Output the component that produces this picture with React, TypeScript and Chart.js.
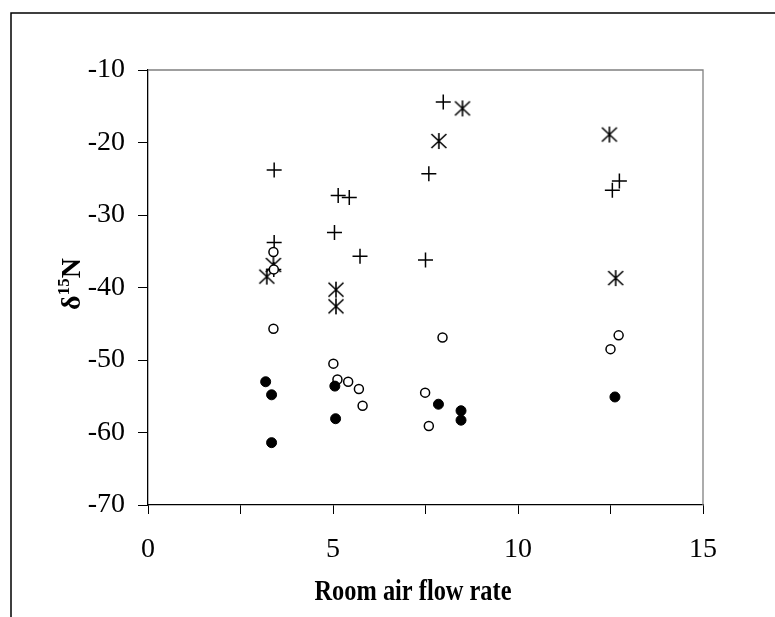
import { useEffect, useRef } from 'react';
import { Chart, registerables } from 'chart.js';

Chart.register(...registerables);

// Room air flow rate vs. delta-15N, four sample groups
const plusX = [3.41, 3.41, 3.4, 5.14, 5.44, 5.04, 5.73, 7.5, 7.59, 7.98, 12.74, 12.55];
const plusY = [-23.8, -33.8, -37.5, -27.3, -27.6, -32.4, -35.7, -36.2, -24.3, -14.4, -25.3, -26.6];

const starX = [3.21, 3.39, 5.08, 5.08, 7.86, 8.5, 12.47, 12.64];
const starY = [-38.5, -36.9, -40.3, -42.6, -19.8, -15.3, -18.9, -38.7];

const openX = [3.39, 3.39, 3.4, 5.01, 5.12, 5.41, 5.7, 5.8, 7.49, 7.59, 7.96, 12.5, 12.72];
const openY = [-35.1, -45.7, -37.5, -50.5, -52.7, -53.0, -54.0, -56.3, -54.5, -59.1, -46.9, -48.5, -46.6];

const filledX = [3.18, 3.34, 3.34, 5.05, 5.07, 7.85, 8.46, 8.46, 12.62];
const filledY = [-53.0, -54.8, -61.4, -53.6, -58.1, -56.1, -57.0, -58.3, -55.1];

const yTickValues = [-10, -20, -30, -40, -50, -60, -70];
const yTickLabels = ['-10', '-20', '-30', '-40', '-50', '-60', '-70'];
const xTickValues = [0, 5, 10, 15];
const xTickLabels = ['0', '5', '10', '15'];

const xAxisTitle = 'Room air flow rate';
const yTitleSymbol = 'δ';
const yTitleSup = '15';
const yTitleElement = 'N';

const SERIF = '"Liberation Serif", "Times New Roman", serif';

const toPoints = (xs: number[], ys: number[]) => xs.map((x, i) => ({ x, y: ys[i] }));

function makeAsterisk(): HTMLCanvasElement {
  const s = 18;
  const c = document.createElement('canvas');
  c.width = s;
  c.height = s;
  const g = c.getContext('2d')!;
  g.strokeStyle = '#000';
  g.lineWidth = 1.6;
  g.beginPath();
  g.moveTo(1.5, 2);
  g.lineTo(16.5, 16);
  g.moveTo(16.5, 2);
  g.lineTo(1.5, 16);
  g.moveTo(9, 1);
  g.lineTo(9, 17);
  g.stroke();
  return c;
}

const framePlugin = {
  id: 'frameAndTitles',
  beforeDraw(chart: any) {
    const ctx = chart.ctx as CanvasRenderingContext2D;
    ctx.save();
    ctx.fillStyle = '#fff';
    ctx.fillRect(0, 0, chart.width, chart.height);
    ctx.strokeStyle = '#000';
    ctx.lineWidth = 1.5;
    ctx.beginPath();
    ctx.moveTo(11, chart.height + 2);
    ctx.lineTo(11, 13);
    ctx.lineTo(chart.width + 2, 13);
    ctx.stroke();
    ctx.restore();
  },
  afterDraw(chart: any) {
    const ctx = chart.ctx as CanvasRenderingContext2D;
    const a = chart.chartArea;
    ctx.save();
    // top and right edges of the plot box
    ctx.strokeStyle = '#808080';
    ctx.lineWidth = 1.3;
    ctx.beginPath();
    ctx.moveTo(a.left, a.top);
    ctx.lineTo(a.right, a.top);
    ctx.lineTo(a.right, a.bottom);
    ctx.stroke();

    ctx.fillStyle = '#000';
    // x axis title
    ctx.font = `bold 29px ${SERIF}`;
    ctx.textAlign = 'center';
    ctx.textBaseline = 'alphabetic';
    ctx.fillText(xAxisTitle, 413, 600, 197);

    // y axis title with superscript mass number
    const big = `bold 28px ${SERIF}`;
    const small = `bold 17px ${SERIF}`;
    ctx.translate(80, 284);
    ctx.rotate(-Math.PI / 2);
    ctx.textAlign = 'left';
    ctx.font = big;
    const w1 = ctx.measureText(yTitleSymbol).width;
    const w3 = ctx.measureText(yTitleElement).width;
    ctx.font = small;
    const w2 = ctx.measureText(yTitleSup).width;
    let x = -(w1 + w2 + w3) / 2;
    ctx.font = big;
    ctx.fillText(yTitleSymbol, x, 0);
    x += w1;
    ctx.font = small;
    ctx.fillText(yTitleSup, x, -11);
    x += w2;
    ctx.font = big;
    ctx.fillText(yTitleElement, x, 0);
    ctx.restore();
  },
};

export default function App() {
  const ref = useRef<HTMLCanvasElement | null>(null);

  useEffect(() => {
    if (!ref.current) return;
    const asterisk = makeAsterisk();
    const chart = new Chart(ref.current, {
      type: 'scatter',
      data: {
        datasets: [
          {
            label: 'filled',
            data: toPoints(filledX, filledY),
            pointStyle: 'circle',
            pointRadius: 5,
            pointBackgroundColor: '#000',
            pointBorderColor: '#000',
            pointBorderWidth: 1,
          },
          {
            label: 'open',
            data: toPoints(openX, openY),
            pointStyle: 'circle',
            pointRadius: 4.5,
            pointBackgroundColor: '#fff',
            pointBorderColor: '#000',
            pointBorderWidth: 1.5,
          },
          {
            label: 'star',
            data: toPoints(starX, starY),
            pointStyle: asterisk as any,
            pointRadius: 9,
            pointBorderColor: '#000',
          },
          {
            label: 'plus',
            data: toPoints(plusX, plusY),
            pointStyle: 'cross',
            pointRadius: 7.5,
            pointBorderColor: '#000',
            pointBorderWidth: 1.5,
          },
        ],
      },
      options: {
        animation: false,
        responsive: false,
        events: [],
        layout: { padding: { top: 70, right: 72, left: 0, bottom: 0 } },
        plugins: { legend: { display: false }, tooltip: { enabled: false } },
        scales: {
          x: {
            type: 'linear',
            min: 0,
            max: 15,
            afterFit: (s: any) => {
              s.height = 112;
            },
            afterBuildTicks: (s: any) => {
              s.ticks = [0, 2.5, 5, 7.5, 10, 12.5, 15].map((v) => ({ value: v }));
            },
            ticks: {
              autoSkip: false,
              maxRotation: 0,
              padding: 19,
              color: '#000',
              font: { family: SERIF, size: 28 },
              callback: (v: any) => {
                const i = xTickValues.indexOf(Number(v));
                return i >= 0 ? xTickLabels[i] : '';
              },
            },
            grid: { drawOnChartArea: false, drawTicks: true, tickLength: 9, color: '#000', lineWidth: 1 },
            border: { display: true, color: '#000', width: 1.3 },
          },
          y: {
            type: 'linear',
            min: -70,
            max: -10,
            afterFit: (s: any) => {
              s.width = 148;
            },
            ticks: {
              stepSize: 10,
              padding: 13,
              color: '#000',
              font: { family: SERIF, size: 28 },
              callback: (v: any) => {
                const i = yTickValues.indexOf(Number(v));
                return i >= 0 ? yTickLabels[i] : '';
              },
            },
            grid: { drawOnChartArea: false, drawTicks: true, tickLength: 10, color: '#000', lineWidth: 1 },
            border: { display: true, color: '#000', width: 1.3 },
          },
        },
      },
      plugins: [framePlugin],
    });
    return () => chart.destroy();
  }, []);

  return (
    <div style={{ position: 'fixed', left: 0, top: 0, width: 775, height: 617, overflow: 'hidden', background: '#fff' }}>
      <canvas ref={ref} width={775} height={617} style={{ display: 'block', width: 775, height: 617 }} />
    </div>
  );
}
